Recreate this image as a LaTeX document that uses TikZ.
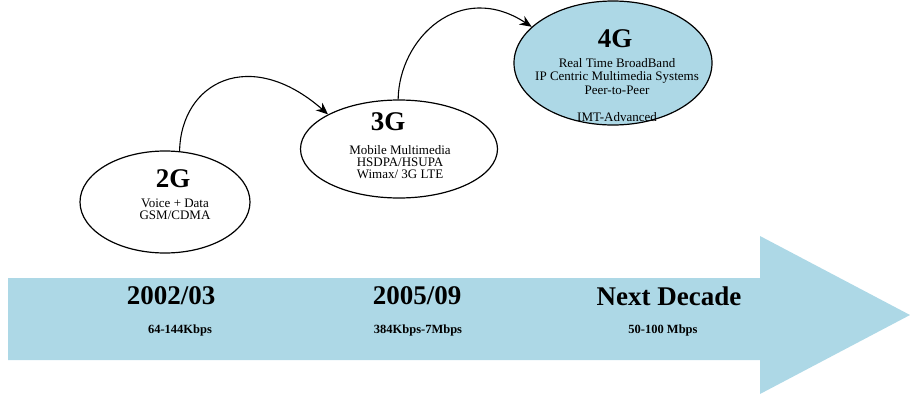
\documentclass[tikz,border=0pt]{standalone}
\usepackage{fontspec}
\setmainfont{Liberation Serif}
\usetikzlibrary{shapes.geometric,arrows.meta}
\definecolor{genblue}{RGB}{173,216,230}

\begin{document}
\begin{tikzpicture}[x=1pt,y=1pt,
  gen/.style={ellipse,draw=black,line width=1.2pt,inner sep=0pt},
  gtitle/.style={font=\fontsize{27}{27}\selectfont\bfseries},
  gtext/.style={align=center,font=\fontsize{13}{12}\selectfont},
  year/.style={font=\fontsize{27}{27}\selectfont\bfseries},
  rate/.style={font=\fontsize{12.5}{12.5}\selectfont\bfseries},
  hop/.style={-{Stealth[length=12pt,width=10pt]},line width=1.1pt}]
\useasboundingbox (0,0) rectangle (910,-394);
% timeline arrow
\fill[genblue] (8,-278) -- (760,-278) -- (760,-236) -- (910,-315) -- (760,-394) -- (760,-360) -- (8,-360) -- cycle;
\node[year] (y2) at (171,-296) {2002/03};
\node[year] (y3) at (417,-296) {2005/09};
\node[year] (y4) at (669,-296) {Next Decade};
\node[rate] (r2) at (180,-330) {64-144Kbps};
\node[rate] (r3) at (418,-330) {384Kbps-7Mbps};
\node[rate] (r4) at (663,-330) {50-100 Mbps};
% generations
\node[gen,fill=white,minimum width=170,minimum height=102] (g2) at (165,-202) {};
\node[gen,fill=white,minimum width=197,minimum height=98] (g3) at (399,-149) {};
\node[gen,fill=genblue,minimum width=198,minimum height=124] (g4) at (613,-63) {};
\node[gtitle] (g2title) at (173,-179) {2G};
\node[gtext] (g2text) at (175,-209) {Voice + Data\\ GSM/CDMA};
\node[gtitle] (g3title) at (388,-122) {3G};
\node[gtext] (g3text) at (400,-162) {Mobile Multimedia\\HSDPA/HSUPA\\Wimax/ 3G LTE};
\node[gtitle] (g4title) at (615,-39) {4G};
\node[gtext,font=\fontsize{13}{13.5}\selectfont] (g4text) at (617,-90) {Real Time BroadBand\\IP Centric Multimedia Systems\\Peer-to-Peer\\[13.5pt]IMT-Advanced};
% hops
\draw[hop] (g2.74) .. controls (181,-82) and (250,-46) .. (g3.154);
\draw[hop] (g3.91) .. controls (399,-38) and (460,20) .. (g4.156);
\end{tikzpicture}
\end{document}
